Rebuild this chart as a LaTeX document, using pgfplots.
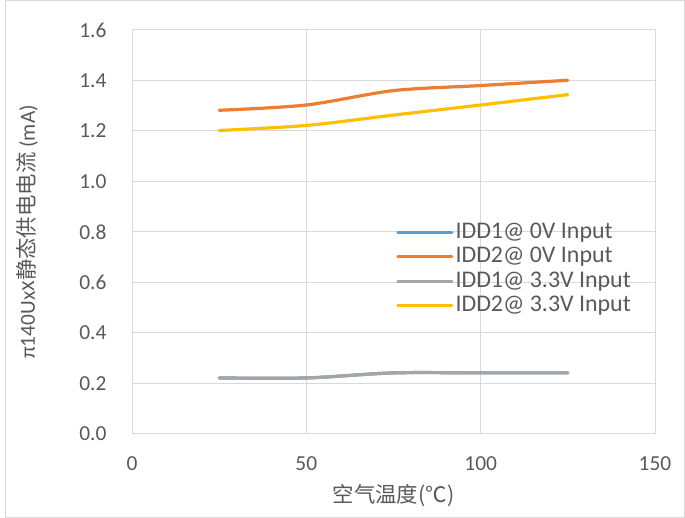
\documentclass[border=0pt]{standalone}
\usepackage{fontspec}
\setmainfont{Carlito}
\newfontfamily\cjk{Noto Sans CJK SC}
\usepackage{pgfplots}
\pgfplotsset{compat=1.18}
\definecolor{cblue}{HTML}{5B9BD5}
\definecolor{corange}{HTML}{ED7D31}
\definecolor{cgray}{HTML}{A5A5A5}
\definecolor{cyellow}{HTML}{FFC000}
\definecolor{gridc}{HTML}{D9D9D9}
\definecolor{labc}{HTML}{595959}
\begin{document}
\begin{tikzpicture}[x=1bp,y=1bp]
\path[use as bounding box] (0,0) rectangle (685,518);
\draw[color=gridc, line width=1bp] (5.5,0.5) rectangle (684.5,517.5);
\begin{axis}[
  at={(132bp,84bp)}, anchor=south west,
  scale only axis, width=523bp, height=404bp,
  xmin=0, xmax=150, ymin=0, ymax=1.6,
  xtick={0,50,100,150},
  ytick={0,0.2,0.4,0.6,0.8,1.0,1.2,1.4,1.6},
  yticklabel style={/pgf/number format/fixed, /pgf/number format/fixed zerofill, /pgf/number format/precision=1, xshift=-22bp},
  /pgf/number format/assume math mode=true,
  grid=major,
  major grid style={color=gridc, line width=1bp},
  axis line style={color=gridc, line width=1bp},
  major tick length=0pt,
  tick label style={font=\fontsize{21.5}{24}\selectfont, color=labc},
  xticklabel style={yshift=-19bp},
  xlabel={{\cjk 空气温度(℃)}},
  ylabel={π140Ux{\cjk x静态供电电流} (mA)},
  xlabel style={at={(axis description cs:0.5,-0.153)}, anchor=center, font=\fontsize{21.5}{24}\selectfont, color=labc},
  ylabel style={at={(axis description cs:-0.2,0.5)}, anchor=center, font=\fontsize{21.5}{24}\selectfont, color=labc},
  legend style={at={(axis description cs:0.505,0.532)}, anchor=north west, draw=none, fill=none,
    font=\fontsize{24}{26}\selectfont, text=labc, row sep=-1.5bp, inner sep=0pt,
    nodes={text height=17bp, text depth=5bp},
    cells={anchor=west}},
  legend image code/.code={\draw[#1, line width=3.2bp] (0bp,0bp) -- (54bp,0bp);},
  every axis plot/.append style={line width=3.2bp, line cap=round, smooth, no markers},
]
\addplot[color=cblue] coordinates {(25,0.222) (50,0.222) (75,0.242) (100,0.242) (125,0.242)};
\addlegendentry{IDD1@ 0V Input}
\addplot[color=corange] coordinates {(25,1.282) (50,1.303) (75,1.360) (100,1.380) (125,1.401)};
\addlegendentry{IDD2@ 0V Input}
\addplot[color=cgray] coordinates {(25,0.222) (50,0.222) (75,0.242) (100,0.242) (125,0.242)};
\addlegendentry{IDD1@ 3.3V Input}
\addplot[color=cyellow] coordinates {(25,1.202) (50,1.222) (75,1.263) (100,1.303) (125,1.344)};
\addlegendentry{IDD2@ 3.3V Input}
\end{axis}
\end{tikzpicture}
\end{document}
